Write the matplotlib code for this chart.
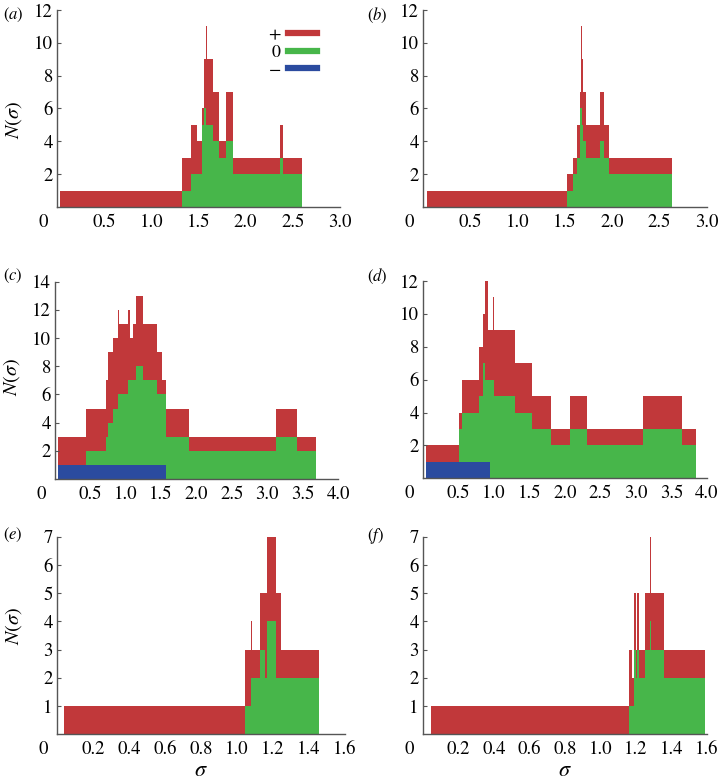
import numpy as np
import matplotlib
matplotlib.use('Agg')
import matplotlib.pyplot as plt
from matplotlib.lines import Line2D

# step edges (sigma) and counts per sign for each panel
a_edges = [0.03, 1.32, 1.415, 1.48, 1.532, 1.556, 1.578, 1.586, 1.656, 1.718, 1.789, 1.867, 2.36, 2.40, 2.60]
a_plus = [1, 2, 3, 2, 1, 3, 6, 4, 3, 1, 3, 1, 2, 1]
a_zero = [0, 1, 2, 2, 5, 6, 5, 5, 4, 3, 4, 2, 3, 2]
a_minus = [0, 0, 0, 0, 0, 0, 0, 0, 0, 0, 0, 0, 0, 0]

b_edges = [0.04, 1.524, 1.587, 1.623, 1.658, 1.666, 1.676, 1.693, 1.718, 1.870, 1.916, 1.965, 2.628]
b_plus = [1, 1, 1, 2, 1, 5, 4, 3, 2, 3, 2, 1]
b_zero = [0, 1, 2, 3, 6, 6, 5, 4, 3, 4, 3, 2]
b_minus = [0, 0, 0, 0, 0, 0, 0, 0, 0, 0, 0, 0]

c_edges = [0.047, 0.438, 0.720, 0.753, 0.824, 0.885, 0.900, 1.027, 1.059, 1.097,
           1.144, 1.238, 1.436, 1.507, 1.563, 1.897, 3.130, 3.427, 3.682]
c_plus = [2, 3, 4, 5, 5, 6, 5, 5, 3, 4, 5, 4, 3, 1, 2, 1, 2, 1]
c_zero = [0, 1, 2, 3, 4, 5, 5, 6, 6, 6, 7, 6, 5, 5, 3, 2, 3, 2]
c_minus = [1, 1, 1, 1, 1, 1, 1, 1, 1, 1, 1, 1, 1, 1, 0, 0, 0, 0]

d_edges = [0.046, 0.502, 0.549, 0.783, 0.845, 0.877, 0.915, 0.938, 0.980, 1.004,
           1.300, 1.535, 1.803, 2.065, 2.310, 3.099, 3.648, 3.849]
d_plus = [1, 1, 2, 3, 3, 6, 3, 3, 5, 4, 3, 2, 1, 2, 1, 2, 1]
d_zero = [0, 2, 3, 4, 6, 5, 5, 6, 6, 5, 4, 3, 2, 3, 2, 3, 2]
d_minus = [1, 1, 1, 1, 1, 1, 1, 0, 0, 0, 0, 0, 0, 0, 0, 0, 0]

e_edges = [0.037, 1.045, 1.076, 1.084, 1.125, 1.156, 1.165, 1.215, 1.245, 1.457]
e_plus = [1, 2, 2, 1, 2, 3, 3, 3, 1]
e_zero = [0, 1, 2, 2, 3, 2, 4, 2, 2]
e_minus = [0, 0, 0, 0, 0, 0, 0, 0, 0]

f_edges = [0.047, 1.162, 1.177, 1.190, 1.198, 1.206, 1.215, 1.252, 1.277, 1.282, 1.356, 1.590]
f_plus = [1, 2, 1, 2, 1, 2, 1, 2, 3, 2, 1]
f_zero = [0, 1, 1, 3, 2, 3, 2, 3, 4, 3, 2]
f_minus = [0, 0, 0, 0, 0, 0, 0, 0, 0, 0, 0]

RED = '#c1383a'
GREEN = '#47b64a'
BLUE = '#2b4b9f'
SPINE = '#555555'

plt.rcParams['font.family'] = ['STIXGeneral', 'DejaVu Serif']
plt.rcParams['mathtext.fontset'] = 'stix'


def draw_panel(ax, edges, plus, zero, minus, xmax, ymax, xticks, yticks):
    plus = np.array(plus)
    zero = np.array(zero)
    minus = np.array(minus)
    # stacked: red = total, green = zero + minus, blue = minus
    ax.stairs(minus + zero + plus, edges, fill=True, color=RED, lw=0)
    ax.stairs(minus + zero, edges, fill=True, color=GREEN, lw=0)
    ax.stairs(minus, edges, fill=True, color=BLUE, lw=0)

    ax.set_xlim(0, xmax)
    ax.set_ylim(0, ymax)
    for s in ['top', 'right']:
        ax.spines[s].set_visible(False)
    for s in ['left', 'bottom']:
        ax.spines[s].set_color(SPINE)
        ax.spines[s].set_linewidth(1.0)

    ax.set_xticks(xticks)
    ax.set_xticklabels(['%.1f' % t for t in xticks])
    ax.set_xticks([xmax], minor=True)
    ax.set_yticks(yticks)
    ax.tick_params(axis='x', which='major', length=0, pad=5, labelsize=13.5)
    ax.tick_params(axis='x', which='minor', direction='in', length=4, color=SPINE)
    ax.tick_params(axis='y', direction='in', length=3, color=SPINE, pad=3, labelsize=13.5)
    # origin label
    ax.annotate('0', xy=(0, 0), xycoords='data', xytext=(-10, -5),
                textcoords='offset points', ha='center', va='top', fontsize=13.5)


fig = plt.figure(figsize=(7.2, 7.84), dpi=100)

ax_a = fig.add_axes([0.0792, 0.7360, 0.3931, 0.2513])
ax_b = fig.add_axes([0.5875, 0.7360, 0.3944, 0.2513])
ax_c = fig.add_axes([0.0764, 0.3890, 0.3931, 0.2517])
ax_d = fig.add_axes([0.5875, 0.3899, 0.3944, 0.2517])
ax_e = fig.add_axes([0.0792, 0.0634, 0.4000, 0.2520])
ax_f = fig.add_axes([0.5875, 0.0634, 0.3944, 0.2520])

ticks3 = [0.5, 1.0, 1.5, 2.0, 2.5, 3.0]
ticks4 = [0.5, 1.0, 1.5, 2.0, 2.5, 3.0, 3.5, 4.0]
ticks16 = [0.2, 0.4, 0.6, 0.8, 1.0, 1.2, 1.4, 1.6]

draw_panel(ax_a, a_edges, a_plus, a_zero, a_minus, 3.0, 12, ticks3, [2, 4, 6, 8, 10, 12])
draw_panel(ax_b, b_edges, b_plus, b_zero, b_minus, 3.0, 12, ticks3, [2, 4, 6, 8, 10, 12])
draw_panel(ax_c, c_edges, c_plus, c_zero, c_minus, 4.0, 14, ticks4, [2, 4, 6, 8, 10, 12, 14])
draw_panel(ax_d, d_edges, d_plus, d_zero, d_minus, 4.0, 12, ticks4, [2, 4, 6, 8, 10, 12])
draw_panel(ax_e, e_edges, e_plus, e_zero, e_minus, 1.6, 7, ticks16, [1, 2, 3, 4, 5, 6, 7])
draw_panel(ax_f, f_edges, f_plus, f_zero, f_minus, 1.6, 7, ticks16, [1, 2, 3, 4, 5, 6, 7])

# y labels on the left column
for ax, yc in [(ax_a, 0.44), (ax_c, 0.52), (ax_e, 0.55)]:
    ax.set_ylabel(r'$N(\sigma)$', fontsize=14.5)
    ax.yaxis.set_label_coords(-0.115, yc)

for ax in [ax_e, ax_f]:
    ax.set_xlabel(r'$\sigma$', fontsize=16, labelpad=2)

# panel letters (pixel positions of the top-left corner)
letters = ['a', 'b', 'c', 'd', 'e', 'f']
corners = [(3, 6), (367, 6), (3, 267), (367, 267), (3, 526), (367, 526)]
for lt, (px, py) in zip(letters, corners):
    fig.text(px / 720, 1 - py / 784, '$(%s)$' % lt, fontsize=12, ha='left', va='top')

handles = [Line2D([], [], color=c, lw=4.5) for c in [RED, GREEN, BLUE]]
ax_a.legend(handles, ['+', '0', '\u2212'], loc='upper right', bbox_to_anchor=(0.95, 0.96),
            frameon=False, markerfirst=False, handlelength=1.6, handletextpad=0.4,
            labelspacing=0.05, borderpad=0, fontsize=13)

fig.savefig('out.png', dpi=100)
